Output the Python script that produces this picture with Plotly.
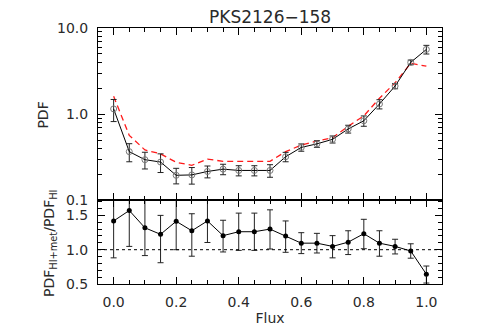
import plotly.graph_objects as go

flux = [0.0, 0.05, 0.10, 0.15, 0.20, 0.25, 0.30, 0.35, 0.40, 0.45, 0.50,
        0.55, 0.60, 0.65, 0.70, 0.75, 0.80, 0.85, 0.90, 0.95, 1.0]

pdf_hi_met = [1.15, 0.367, 0.296, 0.278, 0.195, 0.197, 0.216, 0.230, 0.222, 0.222, 0.222,
              0.320, 0.411, 0.452, 0.510, 0.673, 0.838, 1.31, 2.12, 3.99, 5.64]
pdf_hi_met_err = [0.33, 0.087, 0.065, 0.068, 0.040, 0.043, 0.034, 0.032, 0.030, 0.030, 0.037,
                  0.040, 0.040, 0.040, 0.048, 0.070, 0.115, 0.16, 0.15, 0.25, 0.65]

pdf_hi = [1.61, 0.567, 0.384, 0.346, 0.276, 0.255, 0.301, 0.283, 0.283, 0.283, 0.283,
          0.367, 0.437, 0.489, 0.533, 0.723, 0.955, 1.53, 2.31, 3.90, 3.60]

ratio = [1.419, 1.571, 1.319, 1.224, 1.414, 1.276, 1.419, 1.205, 1.262, 1.262, 1.300,
         1.200, 1.095, 1.095, 1.048, 1.110, 1.233, 1.095, 1.048, 0.981, 0.643]
ratio_upper = [1.96, 2.10, 1.74, 1.50, 1.83, 1.524, 1.76, 1.429, 1.533, 1.533, 1.581,
               1.419, 1.248, 1.238, 1.205, 1.276, 1.443, 1.276, 1.152, 1.086, 0.762]
ratio_lower = [0.881, 1.048, 0.914, 0.810, 1.0, 0.905, 1.105, 0.967, 0.990, 0.990, 1.010,
               0.962, 0.943, 0.952, 0.881, 0.929, 1.014, 0.905, 0.938, 0.876, 0.514]

title_text = "PKS2126\u2212158"
x_ticks = [0.0, 0.2, 0.4, 0.6, 0.8, 1.0]
x_ticklabels = ["0.0", "0.2", "0.4", "0.6", "0.8", "1.0"]
x_minor = [0.05 * i for i in range(21)]
y1_ticks = [0.1, 1.0, 10.0]
y1_ticklabels = ["0.1", "1.0", "10.0"]
y1_minor = [0.2, 0.3, 0.4, 0.5, 0.6, 0.7, 0.8, 0.9, 2, 3, 4, 5, 6, 7, 8, 9]
y2_ticks = [0.5, 1.0, 1.5]
y2_ticklabels = ["0.5", "1.0", "1.5"]

FONT = "DejaVu Sans"
TXT = "#2a2a2a"
fig = go.Figure()

up = [u - r for u, r in zip(ratio_upper, ratio)]
dn = [r - l for r, l in zip(ratio, ratio_lower)]

fig.add_trace(go.Scatter(
    x=flux, y=pdf_hi, mode="lines",
    line=dict(color="#ff1a1a", width=1.3, dash="6px,4px"),
    xaxis="x", yaxis="y", showlegend=False))
fig.add_trace(go.Scatter(
    x=flux, y=pdf_hi_met, mode="lines+markers",
    line=dict(color="black", width=1),
    marker=dict(symbol="circle-open", size=6, color="#777", line=dict(width=1, color="#777")),
    error_y=dict(type="data", array=pdf_hi_met_err, color="#222", thickness=1, width=3),
    xaxis="x", yaxis="y", showlegend=False))
fig.add_trace(go.Scatter(
    x=flux, y=ratio, mode="lines+markers",
    line=dict(color="black", width=1),
    marker=dict(symbol="circle", size=5, color="black"),
    error_y=dict(type="data", symmetric=False, array=up, arrayminus=dn,
                 color="#222", thickness=1, width=3),
    xaxis="x2", yaxis="y2", showlegend=False))

split = 86 / 263
common_x = dict(range=[-0.05, 1.05], tickvals=x_ticks, ticks="inside", ticklen=7,
                tickcolor="black", mirror="allticks", showline=True, linecolor="black",
                linewidth=1, showgrid=False, zeroline=False,
                minor=dict(tickvals=x_minor, ticks="inside",
                           ticklen=4, tickcolor="black", showgrid=False),
                tickfont=dict(family=FONT, size=14, color=TXT))

# the page body adds an 8px offset; compensate so the plot area sits at x 98-442, y 23-286
fig.update_layout(
    width=483, height=328,
    margin=dict(l=90, r=49, t=15, b=50),
    paper_bgcolor="white", plot_bgcolor="white",
    xaxis=dict(common_x, anchor="y", matches="x2", showticklabels=False),
    xaxis2=dict(common_x, anchor="y2", ticktext=x_ticklabels, showticklabels=True,
                ticklabelstandoff=5,
                title=dict(text="Flux", font=dict(family=FONT, size=14, color=TXT), standoff=4)),
    yaxis=dict(type="log", range=[-1, 1], domain=[split, 1], tickvals=y1_ticks,
               ticktext=y1_ticklabels, ticks="inside", ticklen=7, tickcolor="black",
               mirror="allticks", showline=True, linecolor="black", linewidth=1,
               showgrid=False, zeroline=False, ticklabelstandoff=6,
               minor=dict(tickvals=y1_minor, ticks="inside", ticklen=4, tickcolor="black",
                          showgrid=False),
               tickfont=dict(family=FONT, size=14, color=TXT)),
    yaxis2=dict(range=[0.5, 1.72], domain=[0, split], tickvals=y2_ticks,
                ticktext=y2_ticklabels, ticks="inside", ticklen=7, tickcolor="black",
                mirror="allticks", showline=True, linecolor="black", linewidth=1,
                showgrid=False, zeroline=False, ticklabelstandoff=6,
                minor=dict(dtick=0.1, tick0=0.5, ticks="inside", ticklen=4, tickcolor="black",
                           showgrid=False),
                tickfont=dict(family=FONT, size=14, color=TXT)),
    shapes=[dict(type="line", xref="x2 domain", yref="y2", x0=0, x1=1, y0=1.0, y1=1.0,
                 line=dict(color="black", width=1, dash="dot"))],
    annotations=[
        dict(text=title_text, xref="paper", yref="paper", x=0.5, y=1, yshift=11,
             xanchor="center", yanchor="middle", showarrow=False,
             font=dict(family=FONT, size=17, color=TXT)),
        dict(text="PDF", xref="paper", yref="paper", x=-0.16, y=1 - (112 - 23) / 263,
             xanchor="center", yanchor="middle", textangle=-90, showarrow=False,
             font=dict(family=FONT, size=14, color=TXT)),
        dict(text="PDF<sub>HI+met</sub>/PDF<sub>HI</sub>", xref="paper", yref="paper",
             x=-0.14, y=1 - (244 - 23) / 263, xanchor="center", yanchor="middle",
             textangle=-90, showarrow=False,
             font=dict(family=FONT, size=14, color=TXT)),
    ],
)

fig.write_html("out.html")
